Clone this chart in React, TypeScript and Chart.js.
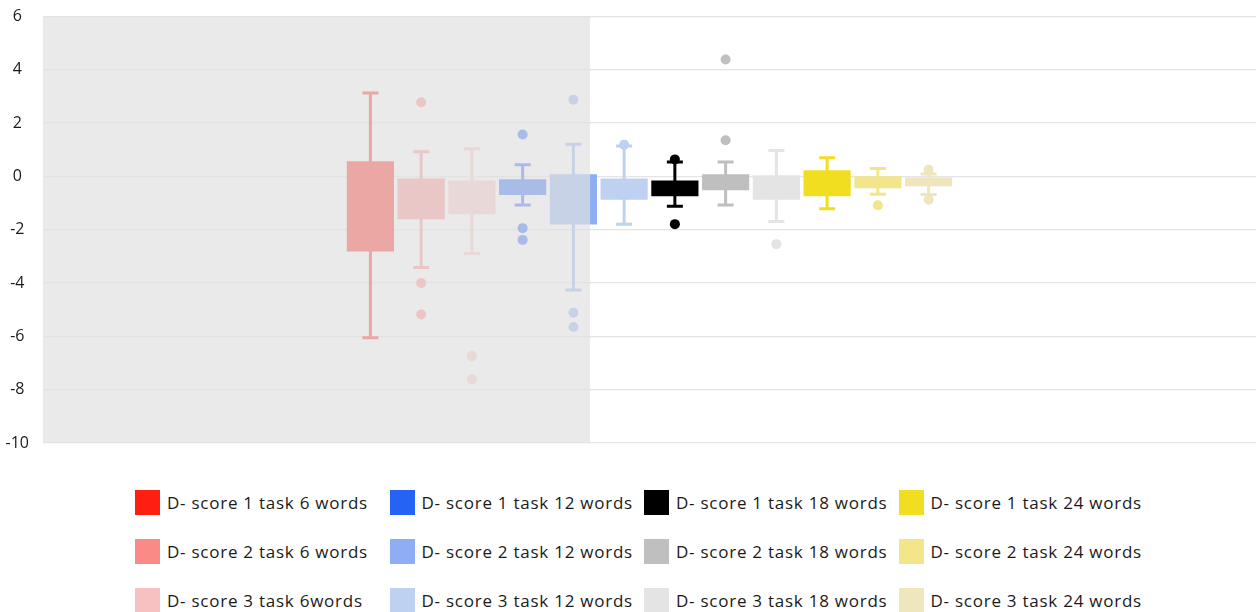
import React, { useEffect, useRef } from "react";
import { Chart, registerables } from "chart.js";

Chart.register(...registerables);

const seriesLabels = [
  "D- score 1 task 6 words",
  "D- score 2 task 6 words",
  "D- score 3 task 6words",
  "D- score 1 task 12 words",
  "D- score 2 task 12 words",
  "D- score 3 task 12 words",
  "D- score 1 task 18 words",
  "D- score 2 task 18 words",
  "D- score 3 task 18 words",
  "D- score 1 task 24 words",
  "D- score 2 task 24 words",
  "D- score 3 task 24 words",
];

const seriesColors = [
  "#ff1f12",
  "#f98a85",
  "#f7c1c1",
  "#2563f5",
  "#8eadf2",
  "#bfd1f0",
  "#000000",
  "#bfbfbf",
  "#e4e4e4",
  "#f2de21",
  "#f2e58a",
  "#f0e6be",
];

const whiskerMin = [-6.05, -3.42, -2.89, -1.07, -4.26, -1.79, -1.12, -1.07, -1.69, -1.21, -0.67, -0.68];
const q1 = [-2.82, -1.61, -1.42, -0.7, -1.8, -0.87, -0.74, -0.52, -0.87, -0.74, -0.44, -0.37];
const q3 = [0.57, -0.08, -0.15, -0.11, 0.08, -0.08, -0.15, 0.08, 0.04, 0.23, 0.01, -0.04];
const whiskerMax = [3.13, 0.93, 1.04, 0.44, 1.21, 1.14, 0.54, 0.54, 0.97, 0.7, 0.3, 0.09];
const outliers = [
  [],
  [2.78, -4.0, -5.18],
  [-6.74, -7.61],
  [1.57, -1.94, -2.38],
  [2.88, -5.11, -5.65],
  [1.19],
  [0.64, -1.79],
  [4.39, 1.36],
  [-2.54],
  [],
  [-1.08],
  [0.26, -0.87],
];

const categories = [""];
const yMin = -10;
const yMax = 6;
const yStep = 2;

const FONT = "'Open Sans', 'Noto Sans', sans-serif";

const whiskerPlugin = {
  id: "whiskers",
  beforeDatasetsDraw(chart: any) {
    const ctx = chart.ctx;
    const ys = chart.scales.y;
    chart.data.datasets.forEach((ds: any, i: number) => {
      const meta = chart.getDatasetMeta(i);
      const el = meta.data[0];
      if (!el) return;
      const x = el.x;
      const color = seriesColors[i];
      const top = ys.getPixelForValue(whiskerMax[i]);
      const bot = ys.getPixelForValue(whiskerMin[i]);
      ctx.save();
      ctx.strokeStyle = color;
      ctx.lineWidth = 3;
      ctx.beginPath();
      ctx.moveTo(x, top);
      ctx.lineTo(x, bot);
      ctx.moveTo(x - 8, top);
      ctx.lineTo(x + 8, top);
      ctx.moveTo(x - 8, bot);
      ctx.lineTo(x + 8, bot);
      ctx.stroke();
      ctx.fillStyle = color;
      outliers[i].forEach((v) => {
        ctx.beginPath();
        ctx.arc(x, ys.getPixelForValue(v), 5, 0, Math.PI * 2);
        ctx.fill();
      });
      ctx.restore();
    });
  },
};

const overlayPlugin = {
  id: "shadeOverlay",
  afterDatasetsDraw(chart: any, _args: any, opts: any) {
    const { ctx, chartArea } = chart;
    const w = (chartArea.right - chartArea.left) * opts.fraction;
    ctx.save();
    ctx.fillStyle = opts.color;
    ctx.fillRect(chartArea.left, chartArea.top, w, chartArea.bottom - chartArea.top);
    ctx.restore();
  },
};

export default function App() {
  const ref = useRef<HTMLCanvasElement | null>(null);

  useEffect(() => {
    if (!ref.current) return;
    const datasets = seriesLabels.map((label, i) => ({
      label,
      data: [[q1[i], q3[i]]] as any,
      backgroundColor: seriesColors[i],
      borderWidth: 0,
      categoryPercentage: 0.502,
      barPercentage: 0.93,
    }));
    const chart = new Chart(ref.current, {
      type: "bar",
      data: { labels: categories, datasets },
      options: {
        responsive: false,
        animation: false,
        devicePixelRatio: 1,
        layout: { padding: { top: 16.5, bottom: 17, left: 0, right: 0 } },
        plugins: {
          legend: { display: false },
          tooltip: { enabled: false },
          shadeOverlay: { fraction: 0.451, color: "rgba(225,225,225,0.7)" },
        } as any,
        scales: {
          x: { display: false, grid: { display: false } },
          y: {
            min: yMin,
            max: yMax,
            afterFit(scale: any) {
              scale.width = 43;
              scale.paddingTop = 8;
              scale.paddingBottom = 8;
            },
            border: { display: false },
            grid: { color: "#e4e4e4", lineWidth: 1.3, drawTicks: false },
            ticks: {
              stepSize: yStep,
              crossAlign: "center",
              padding: 14,
              color: "#1a1a1a",
              font: { family: FONT, size: 16 },
            },
          },
        },
      },
      plugins: [whiskerPlugin, overlayPlugin],
    });
    return () => chart.destroy();
  }, []);

  return (
    <div style={{ position: "absolute", left: 0, top: 0, width: 1256, height: 612, background: "#fff" }}>
      <canvas ref={ref} width={1256} height={460} style={{ display: "block" }} />
      <div
        style={{
          position: "absolute",
          left: 135,
          top: 490,
          display: "grid",
          gridTemplateRows: "repeat(3, 25px)",
          gridAutoColumns: "254.5px",
          gridAutoFlow: "column",
          rowGap: 24,
          fontFamily: FONT,
          fontSize: 17,
          letterSpacing: "0.75px",
          color: "#1a1a1a",
        }}
      >
        {seriesLabels.map((l, i) => (
          <div key={l} style={{ display: "flex", alignItems: "center", whiteSpace: "nowrap" }}>
            <span style={{ width: 25, height: 25, background: seriesColors[i], display: "inline-block", marginRight: 7, flex: "none" }} />
            <span>{l}</span>
          </div>
        ))}
      </div>
    </div>
  );
}
